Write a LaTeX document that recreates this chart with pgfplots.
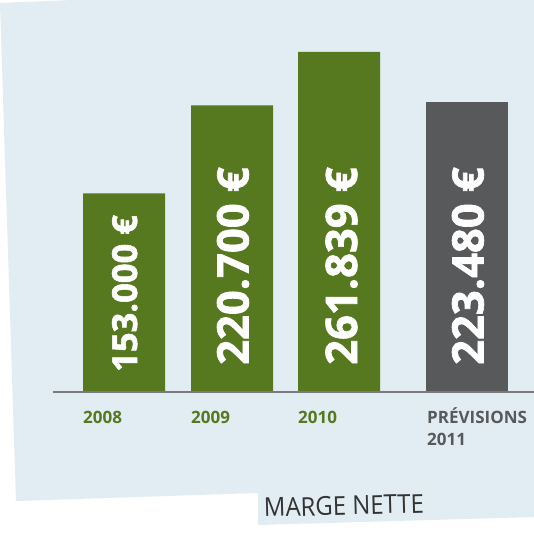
\documentclass[border=0pt]{standalone}
\usepackage{fontspec}
\setmainfont{Open Sans}
\newfontfamily\xbold{Open Sans}[BoldFeatures={FakeBold=1.6}]
\usepackage{pgfplots}
\pgfplotsset{compat=1.18}
\definecolor{bg}{RGB}{225,237,242}
\definecolor{vert}{RGB}{86,120,31}
\definecolor{gris}{RGB}{88,89,91}
\definecolor{trait}{RGB}{122,122,124}
\definecolor{texte}{RGB}{51,51,51}

\begin{document}
\begin{tikzpicture}
\useasboundingbox (0,0) rectangle (534bp,539bp);
\fill[white] (0,0) rectangle (534bp,539bp);
\begin{scope}[x=1bp,y=-1bp,shift={(0,539bp)}]
% fond incliné
\fill[bg] (0,3) -- (72,0) -- (534,0) -- (534,517) -- (258,525) -- (258,493) -- (16,501) -- cycle;
\end{scope}
\begin{axis}[at={(0,0)}, anchor=south west, scale only axis,
  width=534bp, height=539bp,
  xmin=0, xmax=534, ymin=-113190, ymax=301840,
  hide axis, ybar, bar width=82, bar shift=0pt, clip=false]
\addplot[fill=vert, draw=none] coordinates {(124,153000) (232,220700) (339,261839)};
\addplot[fill=gris, draw=none] coordinates {(467,223480)};
\end{axis}
\begin{scope}[x=1bp,y=-1bp,shift={(0,539bp)}]
\draw[trait, line width=1.2bp] (53,392) -- (534,392);
% valeurs
\tikzset{val/.style={rotate=90, anchor=base west, inner sep=0, text=white}}
\node[val, font=\xbold\bfseries\fontsize{34.5bp}{40bp}\selectfont] at (137,372) {153.000 €};
\node[val, font=\xbold\bfseries\fontsize{43.5bp}{50bp}\selectfont] at (248.5,365) {220.700 €};
\node[val, font=\xbold\bfseries\fontsize{43.5bp}{50bp}\selectfont] at (357,365) {261.839 €};
\node[val, font=\xbold\bfseries\fontsize{43.5bp}{50bp}\selectfont] at (483.5,365) {223.480 €};
% années
\tikzset{an/.style={anchor=base west, inner sep=0, font=\bfseries\fontsize{17bp}{20bp}\selectfont}}
\node[an, text=vert] at (83,424) {2008};
\node[an, text=vert] at (191,424) {2009};
\node[an, text=vert] at (298,424) {2010};
\node[an, text=gris] at (427,424) {PRÉVISIONS};
\node[an, text=gris] at (427,446) {2011};
% titre
\node[anchor=base west, inner sep=0, text=texte, rotate=1.5, xscale=0.92,
  font=\fontsize{26bp}{30bp}\selectfont] at (264,517) {MARGE NETTE};
\end{scope}
\end{tikzpicture}
\end{document}
